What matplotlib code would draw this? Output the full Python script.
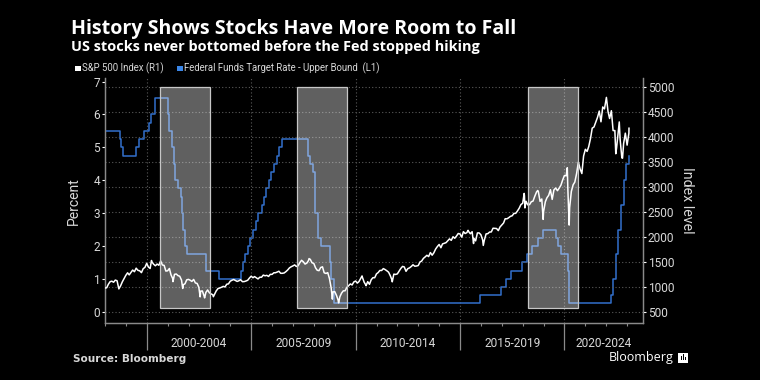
import matplotlib
matplotlib.use("Agg")
import matplotlib.pyplot as plt
import matplotlib.dates as mdates
import matplotlib.transforms as mtransforms
from matplotlib.patches import Rectangle
import pandas as pd
import numpy as np

# Fed funds target rate, upper bound (date of change, new level)
rate_dates = ["1998-01-01", "1998-09-29", "1998-10-15", "1998-11-17",
              "1999-06-30", "1999-08-24", "1999-11-16", "2000-02-02", "2000-03-21", "2000-05-16",
              "2001-01-03", "2001-01-31", "2001-03-20", "2001-04-18", "2001-05-15", "2001-06-27",
              "2001-08-21", "2001-09-17", "2001-10-02", "2001-11-06", "2001-12-11",
              "2002-11-06", "2003-06-25",
              "2004-06-30", "2004-08-10", "2004-09-21", "2004-11-10", "2004-12-14",
              "2005-02-02", "2005-03-22", "2005-05-03", "2005-06-30", "2005-08-09", "2005-09-20",
              "2005-11-01", "2005-12-13", "2006-01-31", "2006-03-28", "2006-05-10", "2006-06-29",
              "2007-09-18", "2007-10-31", "2007-12-11", "2008-01-22", "2008-01-30", "2008-03-18",
              "2008-04-30", "2008-10-08", "2008-10-29", "2008-12-16",
              "2015-12-16", "2016-12-14", "2017-03-15", "2017-06-14", "2017-12-13",
              "2018-03-21", "2018-06-13", "2018-09-26", "2018-12-19",
              "2019-07-31", "2019-09-18", "2019-10-30", "2020-03-03", "2020-03-15",
              "2022-03-16", "2022-05-04", "2022-06-15", "2022-07-27", "2022-09-21",
              "2022-11-02", "2022-12-14", "2023-02-01", "2023-02-03"]
rate_values = [5.5, 5.25, 5.0, 4.75,
               5.0, 5.25, 5.5, 5.75, 6.0, 6.5,
               6.0, 5.5, 5.0, 4.5, 4.0, 3.75,
               3.5, 3.0, 2.5, 2.0, 1.75,
               1.25, 1.0,
               1.25, 1.5, 1.75, 2.0, 2.25,
               2.5, 2.75, 3.0, 3.25, 3.5, 3.75,
               4.0, 4.25, 4.5, 4.75, 5.0, 5.25,
               4.75, 4.5, 4.25, 3.5, 3.0, 2.25,
               2.0, 1.5, 1.0, 0.25,
               0.5, 0.75, 1.0, 1.25, 1.5,
               1.75, 2.0, 2.25, 2.5,
               2.25, 2.0, 1.75, 1.25, 0.25,
               0.5, 1.0, 1.75, 2.5, 3.25,
               4.0, 4.5, 4.75, 4.75]

# S&P 500 month-end levels, Jan 1998 - Jan 2023
spx_monthly = [
    980, 1049, 1102, 1112, 1091, 1134, 1121, 957, 1017, 1099, 1164, 1229,
    1280, 1238, 1286, 1335, 1302, 1373, 1329, 1320, 1283, 1363, 1389, 1469,
    1394, 1366, 1499, 1452, 1421, 1455, 1431, 1518, 1437, 1429, 1315, 1320,
    1366, 1240, 1160, 1249, 1256, 1224, 1211, 1134, 1041, 1060, 1139, 1148,
    1130, 1107, 1147, 1077, 1067, 990, 912, 916, 815, 886, 936, 880,
    856, 841, 848, 917, 964, 975, 990, 1008, 996, 1051, 1058, 1112,
    1131, 1145, 1126, 1107, 1121, 1141, 1102, 1104, 1115, 1130, 1174, 1212,
    1181, 1204, 1181, 1157, 1192, 1191, 1234, 1220, 1229, 1207, 1249, 1248,
    1280, 1281, 1295, 1311, 1270, 1270, 1277, 1304, 1336, 1378, 1401, 1418,
    1438, 1407, 1421, 1482, 1531, 1503, 1455, 1474, 1527, 1549, 1481, 1468,
    1379, 1331, 1323, 1386, 1400, 1280, 1267, 1283, 1165, 969, 896, 903,
    826, 735, 798, 873, 919, 919, 987, 1021, 1057, 1036, 1096, 1115,
    1074, 1104, 1169, 1187, 1089, 1031, 1102, 1049, 1141, 1183, 1181, 1258,
    1286, 1327, 1326, 1364, 1345, 1321, 1292, 1219, 1131, 1253, 1247, 1258,
    1312, 1366, 1408, 1398, 1310, 1362, 1379, 1407, 1441, 1412, 1416, 1426,
    1498, 1515, 1569, 1598, 1631, 1606, 1686, 1633, 1682, 1757, 1806, 1848,
    1783, 1859, 1872, 1884, 1924, 1960, 1931, 2003, 1972, 2018, 2068, 2059,
    1995, 2105, 2068, 2086, 2107, 2063, 2104, 1972, 1920, 2079, 2080, 2044,
    1940, 1932, 2060, 2065, 2097, 2099, 2174, 2171, 2168, 2126, 2199, 2239,
    2279, 2364, 2363, 2384, 2412, 2423, 2470, 2472, 2519, 2575, 2648, 2674,
    2824, 2714, 2641, 2648, 2705, 2718, 2816, 2902, 2914, 2712, 2760, 2507,
    2704, 2784, 2834, 2946, 2752, 2942, 2980, 2926, 2977, 3038, 3141, 3231,
    3226, 2954, 2585, 2912, 3044, 3100, 3271, 3500, 3363, 3270, 3622, 3756,
    3714, 3811, 3973, 4181, 4204, 4298, 4395, 4523, 4308, 4605, 4567, 4766,
    4516, 4374, 4530, 4132, 4132, 3785, 4130, 3955, 3586, 3872, 4080, 3840,
    4077]
spx_start = "1998-01-31"

# intra-month highs and lows visible on the chart
spx_extra_dates = ["1998-01-02", "2000-03-24", "2001-04-04", "2001-09-21", "2002-07-23",
                   "2002-10-09", "2003-03-11", "2007-10-09", "2008-11-20", "2009-03-09",
                   "2010-04-23", "2010-07-02", "2011-04-29", "2011-10-03", "2015-05-21",
                   "2015-08-25", "2016-02-11", "2018-01-26", "2018-02-08", "2018-09-20",
                   "2018-12-24", "2020-02-19", "2020-03-23", "2022-01-03", "2022-06-16",
                   "2022-08-16", "2022-10-12", "2023-02-02"]
spx_extra_values = [975, 1527, 1103, 966, 798,
                    777, 800, 1565, 752, 677,
                    1217, 1022, 1364, 1099, 2131,
                    1867, 1829, 2872, 2581, 2930,
                    2351, 3386, 2237, 4797, 3667,
                    4305, 3577, 4179]

# shaded periods
shade_starts = ["2000-08-25", "2007-03-20", "2018-04-10"]
shade_ends = ["2003-01-10", "2009-08-05", "2020-08-20"]

period_labels = ["2000-2004", "2005-2009", "2010-2014", "2015-2019", "2020-2024"]
period_years = [2000, 2005, 2010, 2015, 2020]

bg = "black"
txt = "#d8d8d8"
grid_c = "#5a5a5a"
spine_c = "#8a8a8a"
blue = "#3270cc"
font = ["Roboto", "DejaVu Sans"]

spx = pd.Series(spx_monthly, index=pd.date_range(spx_start, periods=len(spx_monthly), freq="ME"))
spx = pd.concat([spx, pd.Series(spx_extra_values, index=pd.to_datetime(spx_extra_dates))]).sort_index()
rate_d = pd.to_datetime(rate_dates)

fig = plt.figure(figsize=(7.6, 3.8), dpi=100, facecolor=bg)
ax = fig.add_axes([105 / 760, 1 - 323.3 / 380, 538 / 760, 245 / 380])
ax.set_facecolor(bg)
ax2 = ax.twinx()

ax.step(rate_d, rate_values, where="post", color=blue, lw=1.1, zorder=3)
ax2.plot(spx.index, spx.values, color="white", lw=1.1, zorder=3)

for s, e in zip(shade_starts, shade_ends):
    x0 = mdates.date2num(pd.Timestamp(s))
    x1 = mdates.date2num(pd.Timestamp(e))
    ax2.add_patch(Rectangle((x0, 574), x1 - x0, 5000 - 574, facecolor=(1, 1, 1, 0.38),
                            edgecolor=(0.78, 0.78, 0.78, 1), lw=0.9, zorder=5))

ax.set_xlim(pd.Timestamp("1998-01-01"), pd.Timestamp("2023-10-05"))
ax.set_ylim(-0.353, 7.10)
ax2.set_ylim(267.4, 5180)

ax.set_yticks(range(0, 8))
ax2.set_yticks(range(500, 5001, 500))
ax2.grid(axis="y", color=grid_c, linestyle=(0, (1, 2)), lw=0.8)
ax.grid(axis="x", which="major", color=grid_c, linestyle=(0, (1, 2)), lw=0.8)

ax.xaxis.set_major_locator(mdates.YearLocator(5))
ax.xaxis.set_minor_locator(mdates.YearLocator(1))
ax.xaxis.set_major_formatter(plt.NullFormatter())
ax.tick_params(axis="x", which="major", length=19.5, width=0.9, color=spine_c)
ax.tick_params(axis="x", which="minor", length=2.2, width=0.8, color=spine_c)
ax.tick_params(axis="y", length=2.5, width=0.8, color="white", labelcolor=txt, labelsize=8.6, pad=1)
ax2.tick_params(axis="y", length=2.5, width=0.8, color="white", labelcolor=txt, labelsize=8.6, pad=1)
for lab in ax.get_yticklabels() + ax2.get_yticklabels():
    lab.set_family(font)

for a in (ax, ax2):
    a.spines["top"].set_visible(False)
    for side in ("left", "right", "bottom"):
        a.spines[side].set_color(spine_c)
        a.spines[side].set_linewidth(0.9)

ax.set_ylabel("Percent", color=txt, fontsize=10, family=font, labelpad=9)
ax2.set_ylabel("Index level", color=txt, fontsize=10.3, family=font, rotation=270, labelpad=14)

trans = mtransforms.blended_transform_factory(ax.transData, fig.transFigure)
xmax = ax.get_xlim()[1]
for i, (lab, yr) in enumerate(zip(period_labels, period_years)):
    x0 = mdates.date2num(pd.Timestamp(f"{yr}-01-01"))
    x1 = mdates.date2num(pd.Timestamp(f"{yr + 5}-01-01")) if i < len(period_years) - 1 else xmax
    ax.text((x0 + x1) / 2, 1 - 343.3 / 380, lab, transform=trans, ha="center", va="center",
            color=txt, fontsize=8.6, family=font)

# titles and legend
fig.text(71 / 760, 1 - 34.3 / 380, "History Shows Stocks Have More Room to Fall",
         color="white", fontsize=14.1, fontweight="bold", family="Open Sans", va="baseline")
fig.text(71 / 760, 1 - 51.5 / 380, "US stocks never bottomed before the Fed stopped hiking",
         color="white", fontsize=10.45, fontweight="bold", family="Open Sans", va="baseline")

fig.patches.append(Rectangle((75 / 760, 1 - 71 / 380), 5.5 / 760, 5.5 / 380, transform=fig.transFigure,
                             facecolor="white", edgecolor="none"))
fig.text(82.5 / 760, 1 - 68.3 / 380, "S&P 500 Index (R1)", color=txt, fontsize=6.9,
         family=font, va="center")
fig.patches.append(Rectangle((177 / 760, 1 - 71 / 380), 5.5 / 760, 5.5 / 380, transform=fig.transFigure,
                             facecolor="#3a86e8", edgecolor="none"))
fig.text(184.5 / 760, 1 - 68.3 / 380, "Federal Funds Target Rate - Upper Bound  (L1)", color=txt,
         fontsize=6.9, family=font, va="center")

# footer
fig.text(73 / 760, 1 - 358.7 / 380, "Source: Bloomberg", color=txt, fontsize=7.6,
         fontweight="bold", family="DejaVu Sans", va="center")
fig.text(674 / 760, 1 - 357 / 380, "Bloomberg", color="white", fontsize=9,
         family="Open Sans", va="center", ha="right")
fig.patches.append(Rectangle((678 / 760, 1 - 362.5 / 380), 10 / 760, 10 / 380, transform=fig.transFigure,
                             facecolor="white", edgecolor="none"))
for bx, bh in zip([681, 683, 685], [4, 6, 3]):
    fig.patches.append(Rectangle((bx / 760, 1 - 360 / 380), 1 / 760, bh / 380, transform=fig.transFigure,
                                 facecolor="black", edgecolor="none"))

fig.savefig("out.png", dpi=100, facecolor=bg)
